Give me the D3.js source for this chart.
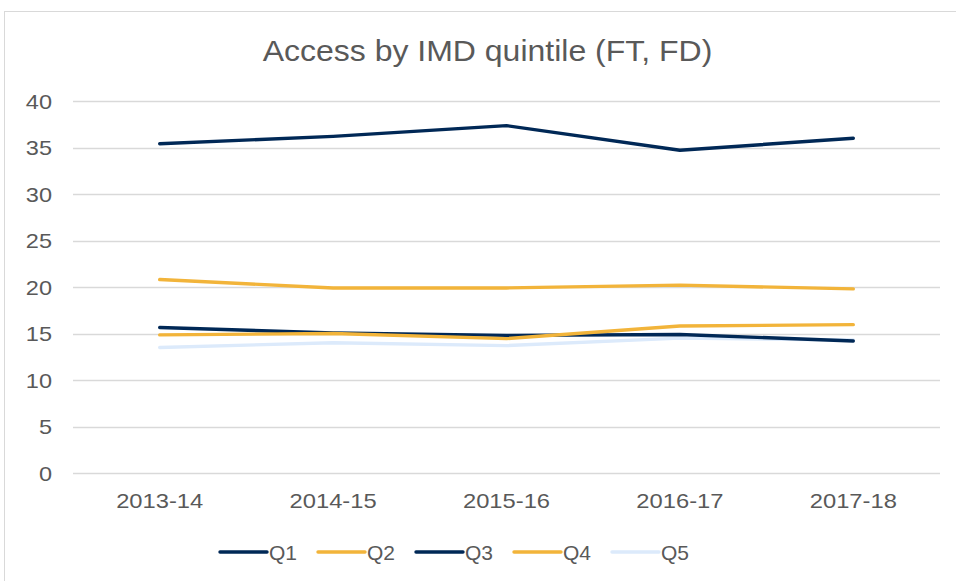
<!DOCTYPE html>
<html>
<head>
<meta charset="utf-8">
<script src="https://cdn.jsdelivr.net/npm/d3@7"></script>
<style>
  body { margin: 0; background: #fff; }
  svg { font-family: "Liberation Sans", Arial, sans-serif; }
</style>
</head>
<body>
<div class="chart"></div>
<script>
// data
var years = ["2013-14", "2014-15", "2015-16", "2016-17", "2017-18"];
var q1 = [15.65, 15.05, 14.8, 14.9, 14.2];
var q2 = [14.85, 15.0, 14.45, 15.8, 15.95];
var q3 = [35.4, 36.2, 37.35, 34.7, 36.0];
var q4 = [20.8, 19.9, 19.9, 20.2, 19.8];
var q5 = [13.5, 14.0, 13.7, 14.5, 14.3];
var seriesNames = ["Q1", "Q2", "Q3", "Q4", "Q5"];
var yTicks = [0, 5, 10, 15, 20, 25, 30, 35, 40];

var colors = {Q1: "#002856", Q2: "#F2B43A", Q3: "#002856", Q4: "#F2B43A", Q5: "#DCEAFB"};
var series = [
    {name: "Q1", values: q1},
    {name: "Q2", values: q2},
    {name: "Q3", values: q3},
    {name: "Q4", values: q4},
    {name: "Q5", values: q5}
];

var width = 956, height = 581;
// note: can't call it "top", window.top is read-only
var plot = {left: 73, right: 940, top: 101, bottom: 473};
var textColor = "#595959";

/**
    the original text is a bit wider than Liberation Sans, so stretch it
 */
function widen(sel, factor) {
    sel.each(function() {
        var len = this.getComputedTextLength();
        d3.select(this).attr("textLength", len * factor).attr("lengthAdjust", "spacingAndGlyphs");
    });
}

var svg = d3.select(".chart").append("svg").attr("width", width).attr("height", height);

// chart frame
svg.append("rect").attr("x", 4.5).attr("y", 11.5).attr("width", 980).attr("height", 620)
    .attr("fill", "#fff").attr("stroke", "#d9d9d9").attr("stroke-width", 1);

var title = svg.append("text").attr("x", 487.5).attr("y", 61).attr("text-anchor", "middle")
    .attr("font-size", 30).attr("fill", textColor).text("Access by IMD quintile (FT, FD)");
widen(title, 1.066);

var x = d3.scaleBand().domain(years).range([plot.left, plot.right]);
var y = d3.scaleLinear().domain([0, 40]).range([plot.bottom, plot.top]);

// gridlines
svg.append("g").selectAll("line").data(yTicks).enter().append("line")
    .attr("x1", plot.left).attr("x2", plot.right)
    .attr("y1", function(d) { return Math.round(y(d)) + 0.5; })
    .attr("y2", function(d) { return Math.round(y(d)) + 0.5; })
    .attr("stroke", "#d9d9d9").attr("stroke-width", 1.3);

// y axis labels
var yAxis = svg.append("g").attr("transform", "translate(" + (plot.left - 21) + ",0)")
    .call(d3.axisLeft(y).tickValues(yTicks).tickSize(0).tickPadding(0));
yAxis.select(".domain").remove();
yAxis.selectAll("text").attr("font-size", 21).attr("fill", textColor)
    .attr("font-family", "Liberation Sans, Arial, sans-serif").attr("dy", "0.35em");
widen(yAxis.selectAll("text"), 1.12);

// x axis labels
var xAxis = svg.append("g").attr("transform", "translate(0," + (plot.bottom + 20) + ")")
    .call(d3.axisBottom(x).tickSize(0).tickPadding(0));
xAxis.select(".domain").remove();
xAxis.selectAll("text").attr("font-size", 21).attr("fill", textColor)
    .attr("font-family", "Liberation Sans, Arial, sans-serif");
widen(xAxis.selectAll("text"), 1.13);

var line = d3.line()
    .x(function(d, i) { return x(years[i]) + x.bandwidth() / 2; })
    .y(function(d) { return y(d); });

// draw Q5 first so it sits underneath, like the original
var drawOrder = [4, 0, 1, 2, 3];
drawOrder.forEach(function(i) {
    var s = series[i];
    svg.append("path").datum(s.values).attr("d", line)
        .attr("fill", "none").attr("stroke", colors[s.name]).attr("stroke-width", 3.4)
        .attr("stroke-linejoin", "round").attr("stroke-linecap", "round");
});

// legend
var legend = svg.append("g").attr("transform", "translate(220,552)");
seriesNames.forEach(function(name, i) {
    var g = legend.append("g").attr("transform", "translate(" + (i * 98) + ",0)");
    g.append("line").attr("x1", 0).attr("x2", 47).attr("y1", 0).attr("y2", 0)
        .attr("stroke", colors[name]).attr("stroke-width", 3.4).attr("stroke-linecap", "round");
    g.append("text").attr("x", 49).attr("y", 8).attr("font-size", 21).attr("fill", textColor).text(name);
});
</script>
</body>
</html>
